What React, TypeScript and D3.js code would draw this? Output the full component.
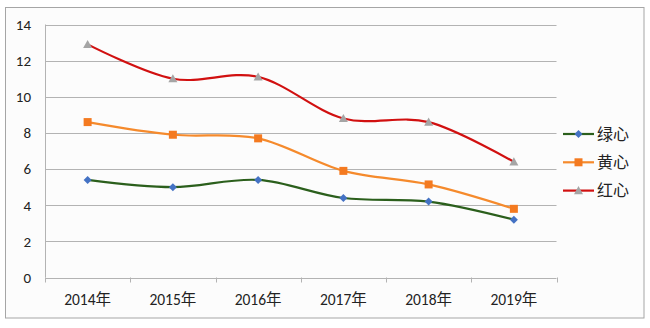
import React from "react";
import * as d3 from "d3";

const categories = ["2014年", "2015年", "2016年", "2017年", "2018年", "2019年"];
const green = [5.4, 5.0, 5.4, 4.4, 4.2, 3.2];
const yellow = [8.6, 7.9, 7.7, 5.9, 5.15, 3.8];
const red = [12.9, 11.0, 11.1, 8.8, 8.6, 6.4];
const seriesNames = ["绿心", "黄心", "红心"];
const yTicks = [0, 2, 4, 6, 8, 10, 12, 14];

const W = 650, H = 328;
const left = 45, right = 556.5, top = 24.5, bottom = 277.5;
const font = "Carlito, Calibri, 'Noto Sans CJK SC', 'Noto Sans', sans-serif";

const seriesDefs = [
  { name: seriesNames[0], values: green, line: "#2b5f1c", marker: "#4472c4", shape: "diamond" },
  { name: seriesNames[1], values: yellow, line: "#f58a2c", marker: "#f47a20", shape: "square" },
  { name: seriesNames[2], values: red, line: "#d11010", marker: "#a5a5a5", shape: "triangle" },
];

function Marker({ x, y, shape, color }: { x: number; y: number; shape: string; color: string }) {
  if (shape === "diamond") {
    const r = 4;
    return <path d={`M${x},${y - r}L${x + r},${y}L${x},${y + r}L${x - r},${y}Z`} fill={color} />;
  }
  if (shape === "square") {
    const r = 4;
    return <rect x={x - r} y={y - r} width={2 * r} height={2 * r} fill={color} />;
  }
  const r = 4.5;
  return <path d={`M${x},${y - r}L${x + r},${y + r * 0.8}L${x - r},${y + r * 0.8}Z`} fill={color} />;
}

export default function App() {
  const x = d3.scaleBand<string>().domain(categories).range([left, right]);
  const y = d3.scaleLinear().domain([0, 14]).range([bottom, top]);
  const cx = (c: string) => (x(c) as number) + x.bandwidth() / 2;
  const lineGen = d3
    .line<number>()
    .x((_, i) => cx(categories[i]))
    .y((v) => y(v))
    .curve(d3.curveCatmullRom.alpha(0));

  const bounds = categories.map((c) => x(c) as number).concat([right]);

  return (
    <svg width={W} height={H} style={{ position: "absolute", left: 0, top: 0 }} fontFamily={font}>
      <rect x={0} y={0} width={W} height={H} fill="#ffffff" />
      <rect x={5.5} y={7.5} width={638.5} height={310.5} fill="#fcfcfc" stroke="#a6a6a6" strokeWidth={1} />
      {yTicks.map((t) => (
        <g key={t}>
          <line x1={left} x2={right} y1={Math.round(y(t)) + 0.5} y2={Math.round(y(t)) + 0.5} stroke="#b3b3b3" strokeWidth={1} />
          <text x={31} y={y(t)} dy="0.36em" textAnchor="end" fontSize={15} fill="#222">
            {t}
          </text>
        </g>
      ))}
      <line x1={left + 0.5} x2={left + 0.5} y1={y(14)} y2={bottom} stroke="#b3b3b3" />
      {bounds.map((b, i) => (
        <line key={i} x1={Math.round(b) + 0.5} x2={Math.round(b) + 0.5} y1={bottom} y2={bottom + 5} stroke="#b3b3b3" />
      ))}
      {categories.map((c) => (
        <text key={c} x={cx(c)} y={304.5} textAnchor="middle" fontSize={15.5} fill="#222">
          {c}
        </text>
      ))}
      {seriesDefs.map((s) => (
        <g key={s.name}>
          <path d={lineGen(s.values) || ""} fill="none" stroke={s.line} strokeWidth={2.2} />
          {s.values.map((v, i) => (
            <Marker key={i} x={cx(categories[i])} y={y(v)} shape={s.shape} color={s.marker} />
          ))}
        </g>
      ))}
      {seriesDefs.map((s, i) => {
        const ly = 134 + i * 28.3;
        return (
          <g key={"lg" + s.name}>
            <line x1={563} x2={594} y1={ly} y2={ly} stroke={s.line} strokeWidth={2.2} />
            <Marker x={578.5} y={ly} shape={s.shape} color={s.marker} />
            <text x={597} y={ly} dy="0.36em" fontSize={16} fill="#222">
              {s.name}
            </text>
          </g>
        );
      })}
    </svg>
  );
}
